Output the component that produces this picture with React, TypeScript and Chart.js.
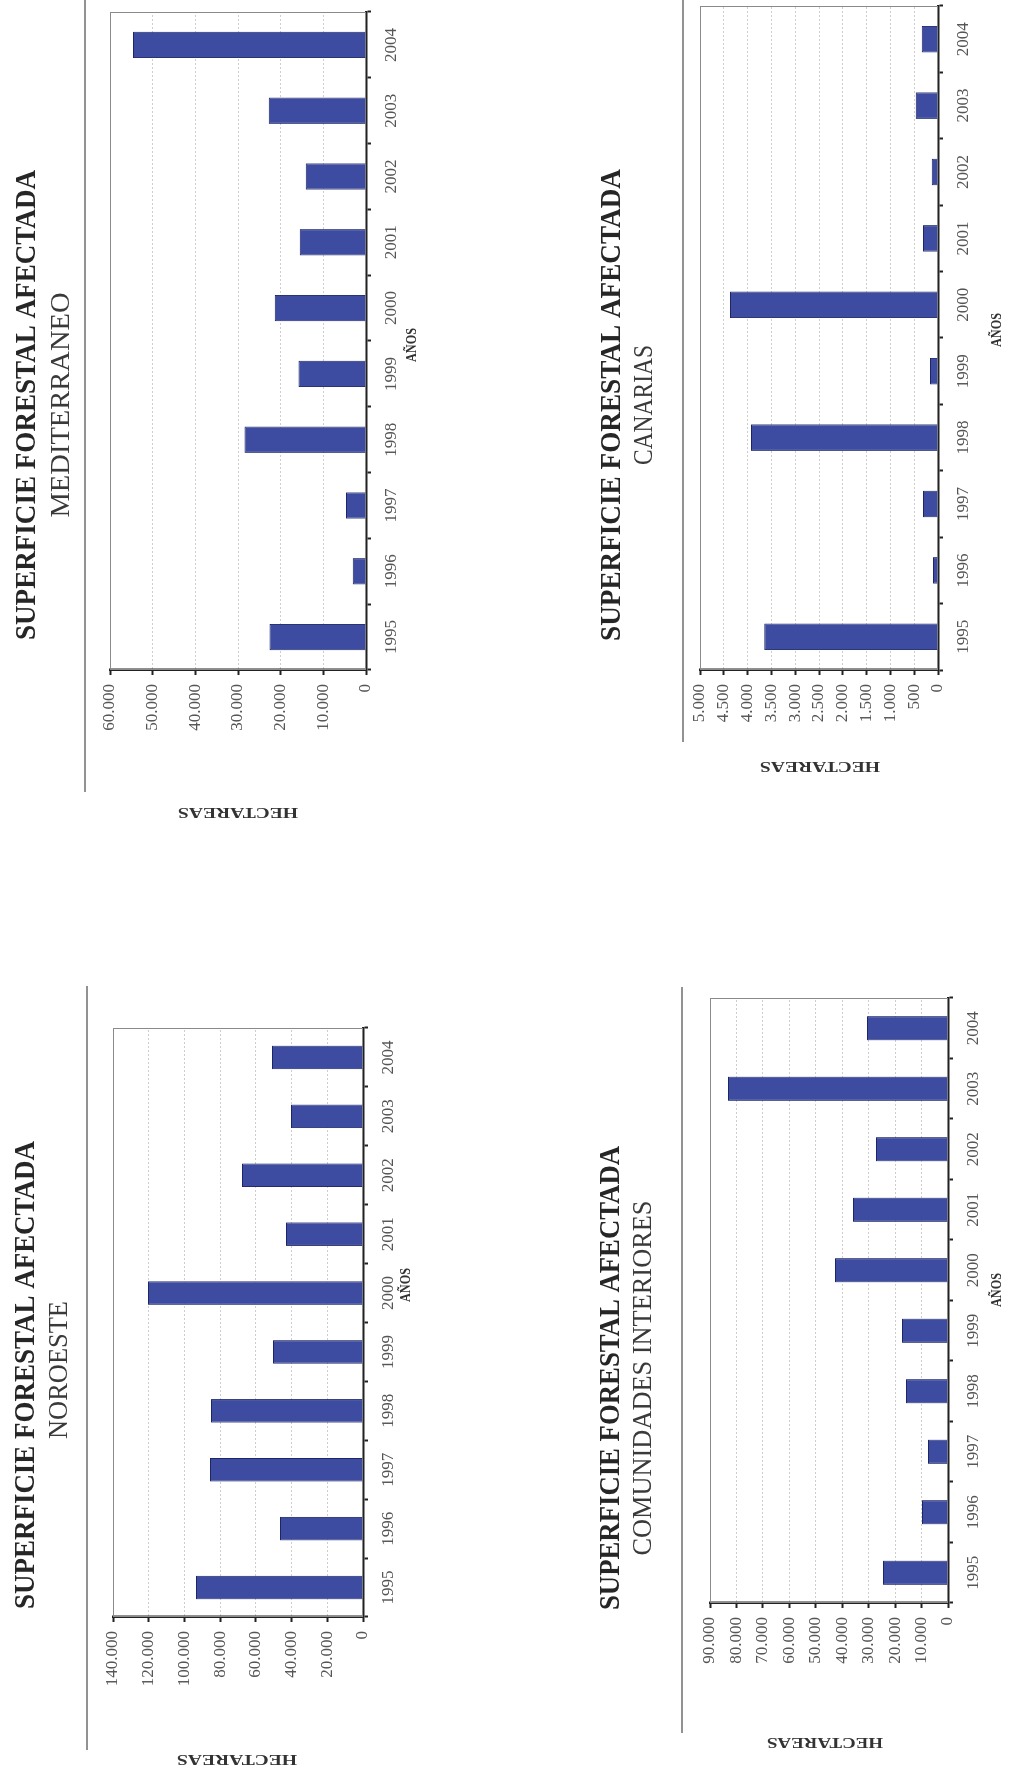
import React, { useEffect, useRef } from "react";
import { Chart, registerables } from "chart.js";

Chart.register(...registerables);

// ---------- DATA ----------
const years = ["1995", "1996", "1997", "1998", "1999", "2000", "2001", "2002", "2003", "2004"];
const mediterraneoHa = [22600, 3100, 4700, 28500, 15800, 21400, 15500, 14100, 22800, 54600];
const canariasHa = [3650, 105, 315, 3930, 170, 4370, 315, 130, 470, 340];
const noroesteHa = [93500, 46500, 85700, 85100, 50400, 120400, 43100, 67700, 40300, 51000];
const interioresHa = [24600, 9800, 7600, 15900, 17400, 42700, 35900, 27200, 83200, 30600];

const titleText = "SUPERFICIE FORESTAL AFECTADA";
const subtitleMediterraneo = "MEDITERRANEO";
const subtitleCanarias = "CANARIAS";
const subtitleNoroeste = "NOROESTE";
const subtitleInteriores = "COMUNIDADES INTERIORES";
const yAxisTitle = "HECTAREAS";
const xAxisTitle = "AÑOS";

const axisMaxMediterraneo = 60000;
const axisStepMediterraneo = 10000;
const axisMaxCanarias = 5000;
const axisStepCanarias = 500;
const axisMaxNoroeste = 140000;
const axisStepNoroeste = 20000;
const axisMaxInteriores = 90000;
const axisStepInteriores = 10000;

// ---------- LAYOUT (page coordinates of the rotated panels) ----------
type PanelLayout = {
  X0: number; Y0: number; Wr: number; Hr: number;
  px1: number; px2: number; py1: number; py2: number;
  lineX: number; lineY1: number; lineY2: number;
  titleX: number; titleYc: number; titleLen: number;
  subX: number; subYc: number; subLen: number;
  hectX: number; hectY: number; hectLen: number;
  anosX: number; anosY: number;
};

const layoutTL: PanelLayout = {
  X0: 0, Y0: 0, Wr: 450, Hr: 830,
  px1: 110, px2: 366, py1: 12, py2: 670,
  lineX: 85, lineY1: 0, lineY2: 792,
  titleX: 27, titleYc: 405, titleLen: 470,
  subX: 62, subYc: 405, subLen: 225,
  hectX: 238, hectY: 812, hectLen: 120,
  anosX: 412, anosY: 345,
};
const layoutTR: PanelLayout = {
  X0: 560, Y0: 0, Wr: 453, Hr: 830,
  px1: 700, px2: 938, py1: 6, py2: 670,
  lineX: 683, lineY1: 0, lineY2: 742,
  titleX: 612, titleYc: 405, titleLen: 472,
  subX: 645, subYc: 405, subLen: 120,
  hectX: 820, hectY: 766, hectLen: 120,
  anosX: 997, anosY: 330,
};
const layoutBL: PanelLayout = {
  X0: 0, Y0: 900, Wr: 450, Hr: 878,
  px1: 113, px2: 363, py1: 1028, py2: 1617,
  lineX: 87, lineY1: 986, lineY2: 1750,
  titleX: 26, titleYc: 1375, titleLen: 468,
  subX: 60, subYc: 1370, subLen: 138,
  hectX: 237, hectY: 1759, hectLen: 120,
  anosX: 406, anosY: 1285,
};
const layoutBR: PanelLayout = {
  X0: 560, Y0: 900, Wr: 453, Hr: 878,
  px1: 710, px2: 948, py1: 998, py2: 1603,
  lineX: 682, lineY1: 987, lineY2: 1733,
  titleX: 611, titleYc: 1378, titleLen: 464,
  subX: 644, subYc: 1378, subLen: 355,
  hectX: 825, hectY: 1742, hectLen: 116,
  anosX: 997, anosY: 1290,
};

const FONT = '"Liberation Serif", "Times New Roman", serif';

function fmt(v: number): string {
  return String(Math.round(v)).replace(/\B(?=(\d{3})+(?!\d))/g, ".");
}

function drawFitted(
  ctx: CanvasRenderingContext2D, text: string, cx: number, cy: number,
  font: string, targetWidth: number, color: string, rotation: number
) {
  ctx.save();
  ctx.font = font;
  ctx.fillStyle = color;
  ctx.textAlign = "center";
  ctx.textBaseline = "middle";
  const w = ctx.measureText(text).width || 1;
  ctx.translate(cx, cy);
  ctx.rotate(rotation);
  ctx.scale(targetWidth / w, 1);
  ctx.fillText(text, 0, 0);
  ctx.restore();
}

type PanelProps = {
  values: number[];
  max: number;
  step: number;
  subtitle: string;
  L: PanelLayout;
};

function Panel({ values, max, step, subtitle, L }: PanelProps) {
  const ref = useRef<HTMLCanvasElement | null>(null);
  const W = L.Hr;
  const H = L.Wr;

  useEffect(() => {
    if (!ref.current) return;
    const toX = (Yr: number) => L.Y0 + L.Hr - Yr;
    const toY = (Xr: number) => Xr - L.X0;
    const area = {
      left: toX(L.py2),
      right: toX(L.py1),
      top: toY(L.px1),
      bottom: toY(L.px2),
    };

    const deco = {
      id: "deco",
      beforeDatasetsDraw(chart: any) {
        const { ctx, chartArea: a } = chart;
        ctx.save();
        ctx.strokeStyle = "#8a8a8a";
        ctx.lineWidth = 1;
        ctx.strokeRect(a.left + 0.5, a.top + 0.5, a.right - a.left - 1, a.bottom - a.top - 1);
        ctx.restore();
      },
      afterDraw(chart: any) {
        const ctx: CanvasRenderingContext2D = chart.ctx;
        ctx.save();
        ctx.strokeStyle = "#6e6e6e";
        ctx.lineWidth = 1.5;
        ctx.beginPath();
        ctx.moveTo(toX(L.lineY2), toY(L.lineX));
        ctx.lineTo(toX(L.lineY1), toY(L.lineX));
        ctx.stroke();
        ctx.restore();
        drawFitted(ctx, titleText, toX(L.titleYc), toY(L.titleX), `bold 30px ${FONT}`, L.titleLen, "#262626", 0);
        drawFitted(ctx, subtitle, toX(L.subYc), toY(L.subX), `27px ${FONT}`, L.subLen, "#3a3a3a", 0);
        drawFitted(ctx, yAxisTitle, toX(L.hectY), toY(L.hectX), `bold 15px ${FONT}`, L.hectLen, "#333333", -Math.PI / 2);
        drawFitted(ctx, xAxisTitle, toX(L.anosY), toY(L.anosX), `bold 14px ${FONT}`, 34, "#333333", 0);
      },
    };

    const chart = new Chart(ref.current, {
      type: "bar",
      data: {
        labels: years,
        datasets: [
          {
            data: values,
            backgroundColor: "#3d4ca0",
            borderColor: "#1c2566",
            borderWidth: 1,
            barPercentage: 0.4,
            categoryPercentage: 1,
          },
        ],
      },
      options: {
        animation: false,
        responsive: false,
        devicePixelRatio: 1,
        layout: { padding: { top: area.top, right: W - area.right, left: 0, bottom: 0 } },
        plugins: {
          legend: { display: false },
          tooltip: { enabled: false },
          title: { display: false },
        },
        scales: {
          x: {
            type: "category",
            offset: true,
            grid: {
              offset: true,
              drawOnChartArea: false,
              drawTicks: true,
              tickLength: 5,
              tickColor: "#222222",
              tickWidth: 2,
            },
            border: { color: "#222222", width: 2.5 },
            ticks: {
              color: "#555555",
              font: { family: FONT, size: 17 },
              padding: 10,
              maxRotation: 0,
              minRotation: 0,
              autoSkip: false,
            },
            afterFit: (s: any) => {
              s.height = H - area.bottom;
            },
          },
          y: {
            min: 0,
            max: max,
            ticks: {
              stepSize: step,
              color: "#555555",
              font: { family: FONT, size: 17 },
              padding: 9,
              autoSkip: false,
              callback: (v: any) => fmt(Number(v)),
            },
            grid: {
              color: "#9a9a9a",
              lineWidth: 1,
              tickColor: "#222222",
              tickWidth: 2,
              tickLength: 5,
              tickBorderDash: [],
            },
            border: { color: "#222222", width: 2.5, dash: [1, 3] },
            afterFit: (s: any) => {
              s.width = area.left;
            },
          },
        },
      } as any,
      plugins: [deco],
    });
    return () => chart.destroy();
  }, []);

  return (
    <div style={{ position: "absolute", left: L.X0, top: L.Y0, width: H, height: W }}>
      <canvas
        ref={ref}
        width={W}
        height={H}
        style={{
          position: "absolute",
          left: 0,
          top: 0,
          width: W,
          height: H,
          transformOrigin: "0 0",
          transform: `translate(0px, ${W}px) rotate(-90deg)`,
        }}
      />
    </div>
  );
}

export default function App() {
  return (
    <div
      style={{
        position: "absolute",
        left: 0,
        top: 0,
        width: 1013,
        height: 1778,
        overflow: "hidden",
        background: "#ffffff",
      }}
    >
      <Panel values={mediterraneoHa} max={axisMaxMediterraneo} step={axisStepMediterraneo} subtitle={subtitleMediterraneo} L={layoutTL} />
      <Panel values={canariasHa} max={axisMaxCanarias} step={axisStepCanarias} subtitle={subtitleCanarias} L={layoutTR} />
      <Panel values={noroesteHa} max={axisMaxNoroeste} step={axisStepNoroeste} subtitle={subtitleNoroeste} L={layoutBL} />
      <Panel values={interioresHa} max={axisMaxInteriores} step={axisStepInteriores} subtitle={subtitleInteriores} L={layoutBR} />
    </div>
  );
}
